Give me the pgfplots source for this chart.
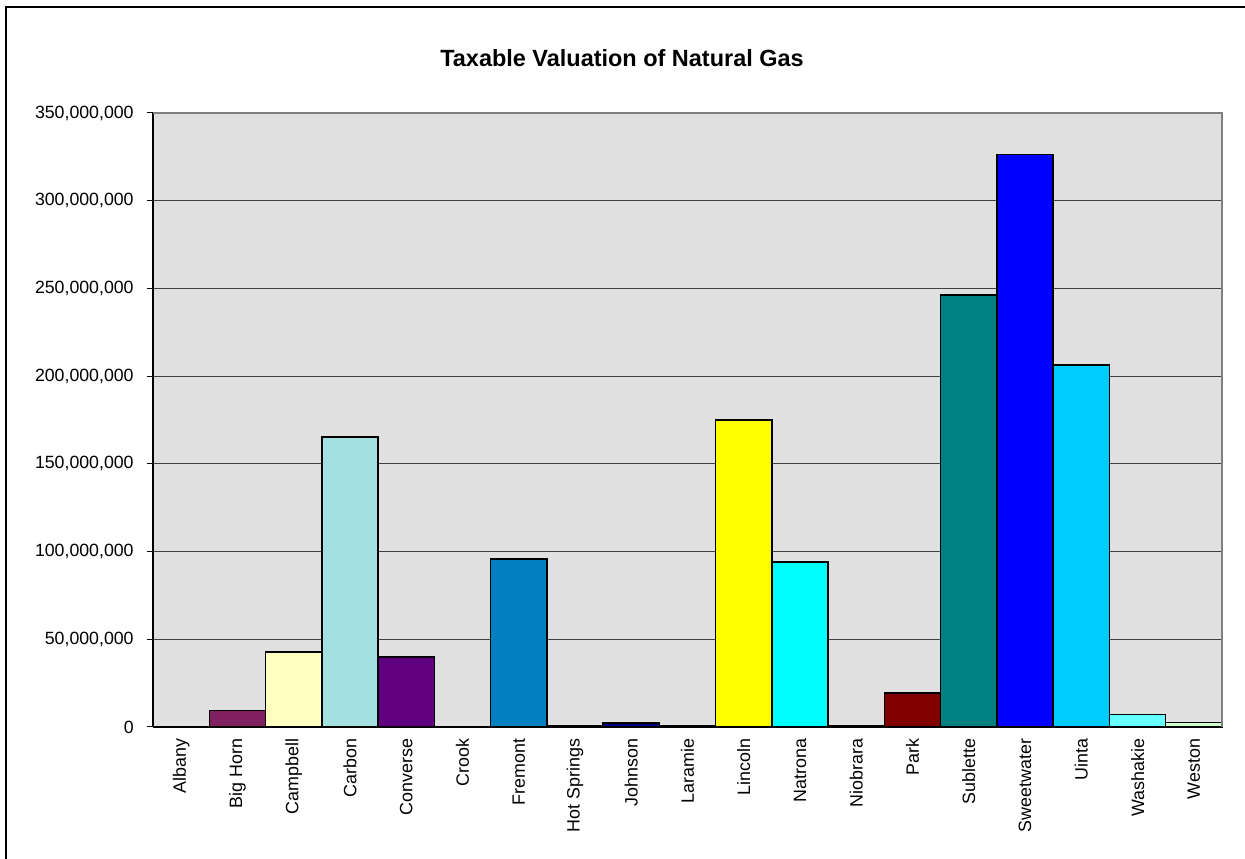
\documentclass[border=0pt]{standalone}
\usepackage{pgfplots}
\pgfplotsset{compat=1.18}
\usepackage{fontspec}
\setmainfont{Liberation Sans}
\definecolor{plotbg}{RGB}{224,224,224}
\definecolor{cBigHorn}{RGB}{128,32,96}
\definecolor{cCampbell}{RGB}{255,255,192}
\definecolor{cCarbon}{RGB}{163,224,224}
\definecolor{cConverse}{RGB}{96,0,128}
\definecolor{cFremont}{RGB}{0,128,192}
\definecolor{cHot}{RGB}{192,192,255}
\definecolor{cJohnson}{RGB}{0,0,128}
\definecolor{cLaramie}{RGB}{255,0,255}
\definecolor{cLincoln}{RGB}{255,255,0}
\definecolor{cNatrona}{RGB}{0,255,255}
\definecolor{cNiobrara}{RGB}{128,0,128}
\definecolor{cPark}{RGB}{128,0,0}
\definecolor{cSublette}{RGB}{0,128,128}
\definecolor{cSweet}{RGB}{0,0,255}
\definecolor{cUinta}{RGB}{0,204,255}
\definecolor{cWashakie}{RGB}{102,255,255}
\definecolor{cWeston}{RGB}{204,255,204}
\begin{document}
\begin{tikzpicture}
\path[use as bounding box] (0,0) rectangle (933.75pt,644.25pt);
\draw[line width=1pt] (4.5pt,-2pt) -- (4.5pt,639pt) -- (936pt,639pt);
\node[font=\bfseries\fontsize{17.6}{20}\selectfont] at (466.5pt,600.75pt) {Taxable Valuation of Natural Gas};
\begin{axis}[
  at={(114.75pt,99pt)}, anchor=south west,
  scale only axis, width=801.75pt, height=460.5pt,
  ymin=0, ymax=350000000,
  xmin=-0.5, xmax=18.5,
  ybar, bar width=1,
  axis background/.style={fill=plotbg},
  axis lines*=left,
  axis line style={line width=1pt, black},
  ytick={0,50000000,100000000,150000000,200000000,250000000,300000000,350000000},
  scaled y ticks=false,
  /pgf/number format/fixed,
  /pgf/number format/1000 sep={,},
  /pgf/number format/assume math mode=true,
  yticklabel style={font=\fontsize{13.3}{15}\selectfont, xshift=-6.5pt},
  ymajorgrids, major grid style={black!75, line width=0.75pt},
  xtick={0,...,18},
  xticklabels={Albany,Big Horn,Campbell,Carbon,Converse,Crook,Fremont,Hot Springs,Johnson,Laramie,Lincoln,Natrona,Niobrara,Park,Sublette,Sweetwater,Uinta,Washakie,Weston},
  xticklabel style={rotate=90, anchor=east, font=\fontsize{13.4}{15}\selectfont, xshift=-0.8pt},
  x tick style={draw=none},
  minor xtick={-0.5,0.5,...,18.5},
  minor x tick style={black, line width=0.75pt},
  minor tick length=4.5pt,
  major tick length=4.5pt,
  tick align=outside,
  y tick style={black, line width=0.75pt},
  every axis plot/.append style={draw=black, line width=1.1pt, bar shift=0pt},
  clip=false,
]
\addplot[fill=cBigHorn] coordinates {(1,9500000)};
\addplot[fill=cCampbell] coordinates {(2,42800000)};
\addplot[fill=cCarbon] coordinates {(3,165300000)};
\addplot[fill=cConverse] coordinates {(4,40000000)};
\addplot[fill=cFremont] coordinates {(6,95700000)};
\addplot[fill=cHot] coordinates {(7,700000)};
\addplot[fill=cJohnson] coordinates {(8,2300000)};
\addplot[fill=cLaramie] coordinates {(9,700000)};
\addplot[fill=cLincoln] coordinates {(10,175000000)};
\addplot[fill=cNatrona] coordinates {(11,94000000)};
\addplot[fill=cNiobrara] coordinates {(12,700000)};
\addplot[fill=cPark] coordinates {(13,19400000)};
\addplot[fill=cSublette] coordinates {(14,246300000)};
\addplot[fill=cSweet] coordinates {(15,326200000)};
\addplot[fill=cUinta] coordinates {(16,206400000)};
\addplot[fill=cWashakie] coordinates {(17,7100000)};
\addplot[fill=cWeston] coordinates {(18,2700000)};
\draw[black!50, line width=1.5pt] (rel axis cs:0,1) -- (rel axis cs:1,1) -- (rel axis cs:1,0);
\end{axis}
\end{tikzpicture}
\end{document}
